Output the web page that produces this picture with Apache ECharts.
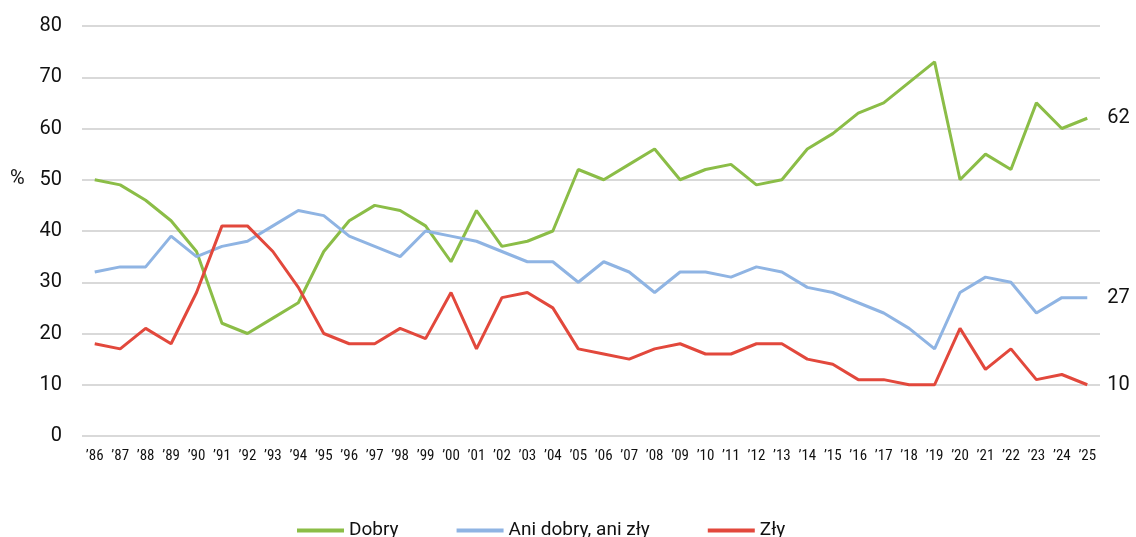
<!DOCTYPE html>
<html>
<head>
<meta charset="utf-8">
<script src="https://cdn.jsdelivr.net/npm/echarts@6/dist/echarts.min.js"></script>
<style>
  html, body { margin: 0; padding: 0; background: #fff; }
  #chart { width: 1136px; height: 537px; }
</style>
</head>
<body>
<div id="chart"></div>
<script>
// lata
const years = ["’86","’87","’88","’89","’90","’91","’92","’93","’94","’95","’96","’97","’98","’99",
  "’00","’01","’02","’03","’04","’05","’06","’07","’08","’09","’10","’11","’12","’13","’14","’15",
  "’16","’17","’18","’19","’20","’21","’22","’23","’24","’25"];

// Dobry
const dobry = [50,49,46,42,36,22,20,23,26,36,42,45,44,41,34,44,37,38,40,52,
  50,53,56,50,52,53,49,50,56,59,63,65,69,73,50,55,52,65,60,62];
// Ani dobry, ani zły
const aniDobry = [32,33,33,39,35,37,38,41,44,43,39,37,35,40,39,38,36,34,34,30,
  34,32,28,32,32,31,33,32,29,28,26,24,21,17,28,31,30,24,27,27];
// Zły
const zly = [18,17,21,18,28,41,41,36,29,20,18,18,21,19,28,17,27,28,25,17,
  16,15,17,18,16,16,18,18,15,14,11,11,10,10,21,13,17,11,12,10];

const yTicks = [0, 80, 10]; // min, max, krok

const chart = echarts.init(document.getElementById("chart"));

function makeSeries(name, data, color) {
  return {
    name: name,
    type: "line",
    data: data,
    symbol: "none",
    lineStyle: { width: 3, color: color },
    itemStyle: { color: color },
    endLabel: {
      show: true,
      distance: 20,
      color: "#111",
      fontSize: 20,
      fontFamily: "Roboto",
    },
  };
}

chart.setOption({
  animation: false,
  grid: { left: 82, right: 36, top: 26, bottom: 101 },
  graphic: [
    {
      type: "text",
      left: 10,
      top: 169,
      style: { text: "%", fontSize: 20, fontFamily: "Roboto", fill: "#111" },
    },
  ],
  legend: {
    bottom: -8,
    left: 292,
    itemWidth: 47,
    itemHeight: 4,
    itemGap: 58,
    icon: "rect",
    textStyle: { fontSize: 19, fontFamily: "Roboto", color: "#111" },
    data: ["Dobry", "Ani dobry, ani zły", "Zły"],
  },
  xAxis: {
    type: "category",
    data: years,
    boundaryGap: true,
    axisLine: { show: false },
    axisTick: { show: false },
    axisLabel: {
      interval: 0,
      margin: 13,
      fontSize: 15,
      color: "#111",
      fontFamily: "'Roboto Condensed', 'Liberation Sans Narrow', 'DejaVu Sans Condensed', Roboto",
    },
  },
  yAxis: {
    type: "value",
    min: yTicks[0],
    max: yTicks[1],
    interval: yTicks[2],
    axisLine: { show: false },
    axisTick: { show: false },
    splitLine: { lineStyle: { color: "#d9d9d9", width: 2 } },
    axisLabel: { fontSize: 20, color: "#111", fontFamily: "Roboto", margin: 20 },
  },
  series: [
    makeSeries("Dobry", dobry, "#8bbd47"),
    makeSeries("Ani dobry, ani zły", aniDobry, "#8fb4e3"),
    makeSeries("Zły", zly, "#e2483c"),
  ],
});
</script>
</body>
</html>
